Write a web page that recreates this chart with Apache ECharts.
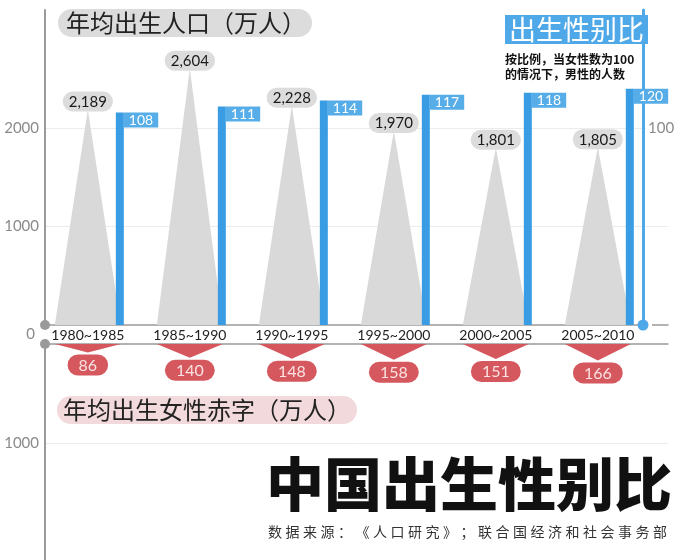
<!DOCTYPE html>
<html><head><meta charset="utf-8">
<script src="https://cdn.jsdelivr.net/npm/echarts@6/dist/echarts.min.js"></script>
<style>html,body{margin:0;padding:0;background:#fff}#c{width:690px;height:560px}</style>
</head><body><div id="c"></div>
<script>
// ---- data ----
const periods = ['1980~1985','1985~1990','1990~1995','1995~2000','2000~2005','2005~2010'];
const births = [2189, 2604, 2228, 1970, 1801, 1805];          // 年均出生人口（万人）
const sexRatio = [108, 111, 114, 117, 118, 120];               // 出生性别比
const femaleDeficit = [86, 140, 148, 158, 151, 166];          // 年均出生女性赤字（万人）
const birthTickLabels = [0, 1000, 2000];
const ratioTickLabels = [100];
const deficitTickLabels = [1000];

const NUM = 'Lato, "Noto Sans", sans-serif';
const CJK = '"Noto Sans CJK SC", "Noto Sans", sans-serif';

const chart = echarts.init(document.getElementById('c'), null, {renderer: 'canvas'});

function fmt(v){ return Number(v).toLocaleString('en-US'); }

function triItem(params, api){
  const i = api.value(0), v = api.value(1);
  const b = api.coord([i, 0]), t = api.coord([i, v]);
  const hw = 33;
  return {type: 'group', children: [
    {type: 'polygon', shape: {points: [[b[0]-hw, b[1]], [t[0], t[1]], [b[0]+hw, b[1]]]},
     style: {fill: '#d9d9d9'}},
    {type: 'text', x: t[0], y: t[1] + 2, z2: 5,
     style: {text: fmt(v), align: 'center', verticalAlign: 'bottom', font: '15px ' + NUM,
             fill: '#1a1a1a', backgroundColor: '#dcdcdc', borderRadius: 11, padding: [3, 6, 2, 6]}}
  ]};
}

function barItem(params, api){
  const i = api.value(0), v = api.value(1);
  const b = api.coord([i, 0]), t = api.coord([i, v]);
  const x = b[0] + 28;
  return {type: 'group', children: [
    {type: 'rect', shape: {x: x, y: t[1], width: 8, height: b[1] - t[1]}, style: {fill: '#3a9de3'}},
    {type: 'text', x: x + 8, y: t[1], z2: 5,
     style: {text: String(v), align: 'left', verticalAlign: 'top', font: '14px ' + NUM,
             fill: '#ffffff', backgroundColor: '#56ade8', padding: [1, 5, 0, 5]}}
  ]};
}

function catItem(params, api){
  const i = api.value(0);
  const b = api.coord([i, 0]);
  return {type: 'text', x: b[0], y: b[1] + 10,
    style: {text: periods[params.dataIndex], align: 'center', verticalAlign: 'middle',
            font: '14px ' + NUM, fill: '#222'}};
}

function redItem(params, api){
  const i = api.value(0), v = api.value(1);
  const b = api.coord([i, 0]), t = api.coord([i, v]);
  const hw = 33;
  return {type: 'group', children: [
    {type: 'polygon', shape: {points: [[b[0]-hw, b[1]], [t[0], t[1]], [b[0]+hw, b[1]]]},
     style: {fill: '#d5575d'}},
    {type: 'text', x: t[0], y: t[1] + 2, z2: 5,
     style: {text: String(v), align: 'center', verticalAlign: 'top', font: '16px ' + NUM,
             fill: '#fbe2e2', backgroundColor: '#d5585e', borderRadius: 12, padding: [3, 11, 2, 11]}}
  ]};
}

const axisLabelStyle = {color: '#8a8a8a', fontSize: 15, fontFamily: NUM};
const gridMark = ticks => ({
  silent: true, symbol: 'none', label: {show: false}, animation: false, z: 0,
  lineStyle: {color: '#ececec', width: 1, type: 'solid'},
  data: ticks.filter(v => v > 0).map(v => ({yAxis: v}))
});

const option = {
  backgroundColor: '#ffffff',
  animation: false,
  title: [
    {text: '年均出生人口（万人）', left: 58, top: 9, padding: [2, 6, 2, 8],
     backgroundColor: '#dcdcdc', borderRadius: 15,
     textStyle: {fontFamily: CJK, fontSize: 24, fontWeight: 'normal', color: '#222'}},
    {text: '出生性别比', left: 505, top: 15, padding: [1, 4, 1, 4],
     backgroundColor: '#4fa9e8',
     textStyle: {fontFamily: CJK, fontSize: 27, fontWeight: 'normal', color: '#ffffff'}},
    {text: '按比例，当女性数为100\n的情况下，男性的人数', left: 505, top: 52, padding: 0,
     textStyle: {fontFamily: CJK, fontSize: 12, fontWeight: 'bold', color: '#111', lineHeight: 15}},
    {text: '年均出生女性赤字（万人）', left: 57, top: 396, padding: [2, 6, 2, 6],
     backgroundColor: '#f2d9db', borderRadius: 15,
     textStyle: {fontFamily: CJK, fontSize: 24, fontWeight: 'normal', color: '#222'}},
    {text: '中国出生性别比', left: 266, top: 455, padding: 0,
     textStyle: {fontFamily: CJK, fontSize: 58, fontWeight: 900, color: '#111'}},
    {text: '数据来源：《人口研究》；联合国经济和社会事务部'.split('').join('\u2005'), left: 268, top: 525, padding: 0,
     textStyle: {fontFamily: CJK, fontSize: 14, fontWeight: 'normal', color: '#333'}}
  ],
  grid: [
    {left: 45, right: 22, top: 10, height: 315},
    {left: 45, right: 22, top: 344, bottom: 0}
  ],
  xAxis: [
    {type: 'value', gridIndex: 0, min: -0.42, max: 5.688, position: 'bottom',
     axisLine: {show: true, onZero: false, lineStyle: {color: '#9a9a9a', width: 1.5}},
     axisTick: {show: false}, axisLabel: {show: false}, splitLine: {show: false}},
    {type: 'value', gridIndex: 1, min: -0.42, max: 5.688, position: 'top',
     axisLine: {show: true, onZero: false, lineStyle: {color: '#9a9a9a', width: 1.5}},
     axisTick: {show: false}, axisLabel: {show: false}, splitLine: {show: false}}
  ],
  yAxis: [
    {type: 'value', gridIndex: 0, min: 0, max: 3200, interval: 1000, position: 'left',
     axisLine: {show: true, onZero: false, lineStyle: {color: '#9a9a9a', width: 2}, symbol: ['circle', 'none'], symbolSize: [10, 10]},
     axisTick: {show: false},
     axisLabel: {margin: 6, formatter: v => birthTickLabels.includes(v) ? (v === 0 ? '{z|0}' : String(v)) : '',
                 ...axisLabelStyle, rich: {z: {color: '#8a8a8a', fontSize: 15, fontFamily: NUM, padding: [18, 4, 0, 0]}}},
     splitLine: {show: false}},
    {type: 'value', gridIndex: 0, min: 0, max: 160, interval: 100, position: 'right', offset: -25, z: 1,
     axisLine: {show: true, onZero: false, lineStyle: {color: '#4fa9e8', width: 3}, symbol: ['circle', 'none'], symbolSize: [11, 11]},
     axisTick: {show: false},
     axisLabel: {margin: 3, formatter: v => ratioTickLabels.includes(v) ? String(v) : '', ...axisLabelStyle,
                 backgroundColor: '#ffffff', padding: [2, 4, 2, 2]},
     splitLine: {show: false}},
    {type: 'value', gridIndex: 1, min: 0, max: 2180, interval: 1000, inverse: true, position: 'left',
     axisLine: {show: true, onZero: false, lineStyle: {color: '#9a9a9a', width: 2}, symbol: ['none', 'circle'], symbolSize: [10, 10]},
     axisTick: {show: false},
     axisLabel: {margin: 6, formatter: v => deficitTickLabels.includes(v) ? String(v) : '', ...axisLabelStyle},
     splitLine: {show: false}}
  ],
  series: [
    {type: 'custom', name: '年均出生人口', xAxisIndex: 0, yAxisIndex: 0, renderItem: triItem,
     data: births.map((v, i) => [i, v]), encode: {x: 0, y: 1}, z: 2},
    {type: 'custom', name: '出生性别比', xAxisIndex: 0, yAxisIndex: 1, renderItem: barItem,
     data: sexRatio.map((v, i) => [i, v]), encode: {x: 0, y: 1}, z: 3},
    {type: 'custom', name: '时期', xAxisIndex: 0, yAxisIndex: 0, renderItem: catItem,
     data: periods.map((p, i) => [i, 0]), encode: {x: 0, y: 1}, z: 0, markLine: gridMark(birthTickLabels)},
    {type: 'custom', name: '年均出生女性赤字', xAxisIndex: 1, yAxisIndex: 2, renderItem: redItem,
     data: femaleDeficit.map((v, i) => [i, v]), encode: {x: 0, y: 1}, z: 2, markLine: gridMark(deficitTickLabels)}
  ]
};
chart.setOption(option);
</script></body></html>
